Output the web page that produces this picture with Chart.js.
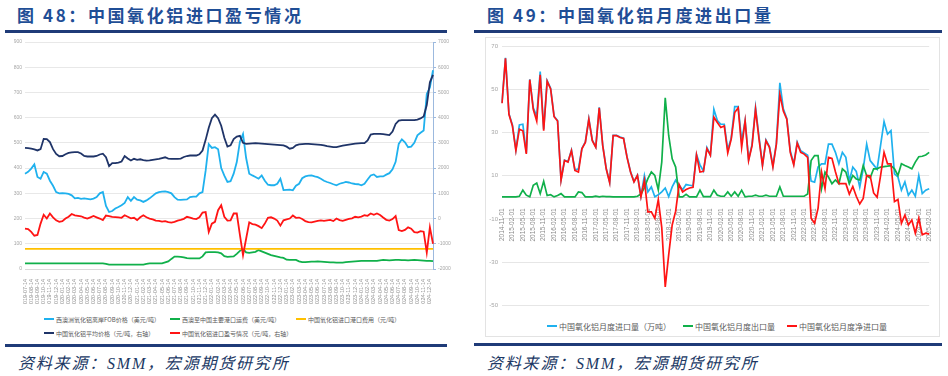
<!DOCTYPE html>
<html>
<head>
<meta charset="utf-8">
<script src="https://cdn.jsdelivr.net/npm/chart.js@4.4.1/dist/chart.umd.min.js"></script>
<style>
body{margin:0;width:948px;height:376px;position:relative;overflow:hidden;background:#fff;font-family:"Noto Sans CJK SC",sans-serif}
.title{position:absolute;top:2px;font-size:17px;font-weight:700;color:#1f4e96;letter-spacing:2.6px;white-space:nowrap}
.rule{position:absolute;height:3px;background:#1f3b78}
.src{position:absolute;top:350px;font-size:16px;font-style:italic;color:#203864;letter-spacing:1.8px;white-space:nowrap;font-family:"Liberation Serif","Noto Sans CJK SC",serif}
canvas{position:absolute}
.box{position:absolute;left:485px;top:37px;width:455px;height:300px;border:1px solid #e3e3e3;box-sizing:border-box}
.leg{position:absolute;color:#595959;white-space:nowrap}
.leg .it{display:flex;align-items:center}
.leg .ln{display:inline-block;width:10px;height:2px;margin-right:2px}
#leg1{left:44px;top:312px;display:grid;grid-template-columns:126px 126px 126px;grid-auto-rows:14px;font-size:6px}
#leg2{left:547px;top:320px;display:flex;gap:12px;height:12px;font-size:8px}
</style>
</head>
<body>
<div class="title" style="left:17px">图 48：中国氧化铝进口盈亏情况</div>
<div class="rule" style="left:5px;top:30px;width:442px"></div>
<div class="title" style="left:487px">图 49：中国氧化铝月度进出口量</div>
<div class="rule" style="left:474px;top:30px;width:468px"></div>

<canvas id="c1" width="452" height="268" style="left:0;top:36px"></canvas>
<div class="leg" id="leg1"></div>

<div class="box"></div>
<canvas id="c2" width="454" height="275" style="left:486px;top:38px"></canvas>
<div class="leg" id="leg2"></div>

<div class="rule" style="left:5px;top:344px;width:442px"></div>
<div class="rule" style="left:474px;top:343px;width:468px"></div>
<div class="src" style="left:18px">资料来源：SMM，宏源期货研究所</div>
<div class="src" style="left:487px">资料来源：SMM，宏源期货研究所</div>

<script>
// ---- 图48 数据 (半月一个点)
var leftDates = [];
for (var m = 0; m < 66; m++) {
    var d = new Date(2019, 6 + m, 1);
    var ym = d.getFullYear() + '-' + String(d.getMonth() + 1).padStart(2, '0');
    leftDates.push(ym + '-14', ym + '-28');
}

// 西澳洲氧化铝离岸FOB价格 (美元/吨, 左轴)
var fobPrice = [
    378, 385, 398, 415, 365, 358, 385, 378, 350, 330,
    305, 300, 301, 300, 298, 292, 280, 282, 278, 280,
    278, 276, 279, 285, 300, 305, 250, 226, 230, 240,
    246, 253, 262, 285, 270, 285, 275, 272, 266, 272,
    280, 290, 300, 305, 307, 308, 305, 300, 285, 275,
    274, 275, 276, 285, 287, 287, 300, 305, 390, 495,
    480, 483, 475, 400, 370, 345, 348, 378, 424, 505,
    535, 440, 378, 371, 365, 358, 371, 350, 334, 332,
    332, 338, 358, 313, 314, 315, 312, 330, 338, 360,
    367, 370, 371, 367, 364, 358, 350, 345, 341, 336,
    332, 338, 341, 345, 343, 339, 337, 336, 332, 338,
    355, 371, 375, 365, 367, 367, 374, 380, 395, 425,
    496, 514, 502, 483, 485, 500, 530, 540, 549, 694,
    720, 788
];
// 西澳至中国主要港口运费 (美元/吨, 左轴)
var freight = [
    22, 22, 22, 22, 22, 22, 22, 22, 22, 22,
    22, 22, 22, 22, 22, 22, 22, 22, 22, 22,
    22, 22, 22, 22, 22, 22, 20, 17, 17, 17,
    17, 17, 17, 17, 17, 17, 17, 17, 17, 20,
    22, 22, 22, 22, 22, 26, 30, 40, 49, 49,
    48, 46, 43, 42, 42, 42, 42, 50, 66, 67,
    67, 67, 66, 62, 51, 48, 49, 50, 60, 72,
    80, 66, 64, 66, 68, 75, 70, 65, 60, 55,
    52, 49, 46, 44, 37, 36, 36, 36, 30, 27,
    27, 28, 29, 29, 30, 29, 28, 27, 26, 26,
    25, 25, 25, 27, 28, 29, 30, 31, 32, 32,
    32, 32, 32, 32, 34, 36, 35, 34, 35, 36,
    36, 35, 35, 34, 35, 36, 35, 34, 33, 32,
    32, 31
];
// 中国氧化铝进口港口费用 (首尾两点, 左轴)
var portFee = [80, 80];
// 中国氧化铝平均价格 (元/吨, 右轴)
var cnPrice = [
    2800, 2790, 2770, 2740, 2700, 2750, 3160, 3150, 3030, 2750,
    2560, 2470, 2480, 2550, 2600, 2620, 2630, 2630, 2580, 2480,
    2460, 2460, 2460, 2480, 2540, 2570, 2430, 2080, 2200, 2200,
    2220, 2260, 2480, 2380, 2300, 2370, 2330, 2350, 2320, 2300,
    2310, 2330, 2350, 2370, 2400, 2430, 2380, 2370, 2370, 2370,
    2380, 2440, 2480, 2500, 2500, 2500, 2550, 2700, 3120, 3600,
    3980, 4120, 3980, 3680, 3200, 2850, 2900, 3150, 3250, 3280,
    3000, 2960, 2970, 2980, 2990, 2980, 2970, 2960, 2950, 2940,
    2930, 2920, 2910, 2900, 2850, 2770, 2800, 2900, 2940, 2950,
    2960, 2960, 2950, 2940, 2930, 2920, 2900, 2870, 2850, 2830,
    2830, 2860, 2890, 2910, 2930, 2950, 2970, 2980, 2990, 2990,
    3100, 3330, 3360, 3360, 3360, 3350, 3330, 3310, 3450, 3750,
    3880, 3900, 3900, 3900, 3900, 3900, 3920, 3970, 4050, 4500,
    5400, 5700
];
// 中国氧化铝进口盈亏情况 (元/吨, 右轴)
var profit = [
    -400, -420, -530, -680, -650, -200, 150, 0, 200, 50,
    -70, -130, -100, 0, 70, 180, 130, 110, 90, 40,
    0, 50, 100, 50, 0, -60, 120, 100, 70, 60,
    50, 30, 130, 70, 10, 30, -60, 50, 130, 50,
    0, -30, -80, -90, -120, -100, -140, -160, -130, -80,
    -50, -10, 70, 40, 0, -20, 50, 240, 260, -530,
    -200, -130, 330, 530, 70, -80, -70, 200, 200, -650,
    -1450, -800, -150, -220, -240, -300, -380, -200, 30, 50,
    0, -80, -280, -70, -30, 0, 120, 30, 40, -20,
    -100, -140, -150, -120, -90, -70, -90, -70, -50, -100,
    0, -60, -90, -50, -10, 10, 70, 50, 80, 130,
    110, 200, 150, 200, 140, 40, -50, -80, -20, 100,
    -460, -500, -450, -350, -400, -540, -560, -500, -520, -1350,
    -350, -1000
];

// ---- 图49 数据 (月度, 万吨)
var months = [];
for (var k = 0; k < 124; k++) {
    var dm = new Date(2014, 10 + k, 1);
    months.push(dm.getFullYear() + '-' + String(dm.getMonth() + 1).padStart(2, '0') + '-01');
}
var importVol = [
    43.7, 64.5, 38.6, 33.5, 22, 33.5, 33.8, 20.5, 54.6, 41.4,
    37.6, 58.2, 31.5, 54, 50.5, 37.5, 35.5, 8.2, 17.2, 16.5,
    21.8, 12.6, 13.2, 22.6, 25.6, 36.3, 26.4, 23.3, 41.6, 24.1,
    13.4, 7, 28.7, 28.7, 27.9, 27.4, 18.7, 11.9, 7.3, 10.3,
    0.5, 10.1, 2.5, 4.8, 0.3, 1.2, 2.5, 4.3, 0.3, 4.8,
    7.9, 5.6, 3.5, 5.9, 5.6, 5.3, 19.8, 15, 12.2, 23,
    19.6, 40.7, 35.5, 33.8, 33.8, 22, 27.5, 42, 42, 26,
    35.5, 17.5, 24.5, 41.5, 28, 15, 26.5, 23.5, 14.5, 25,
    53, 41, 36.5, 21.5, 15.5, 25.5, 21.5, 20.5, 19.5, 7.5,
    7, 14, 15.5, 15.5, 24.6, 24.6, 20.8, 15.5, 20.8, 18.5,
    7.5, 14, 12, 4.8, 13.2, 24.6, 17, 15, 13, 24,
    35, 29.2, 30.8, 10.9, 9.4, 3.3, 7.1, 1, 3.3, 0.5,
    10.1, 1.7, 3.3, 4
];
var exportVol = [
    0.2, 0.2, 0.2, 0.2, 0.2, 0.5, 3.3, 1, 0.2, 5.6,
    6.6, 1.7, 7.4, 0.8, 1.2, 0.2, 0.8, 1.7, 0.2, 0.2,
    0.2, 0.2, 2.5, 2.2, 0.2, 0.2, 0.2, 0.5, 0.2, 0.5,
    0.3, 0.3, 0.2, 0.2, 0.2, 0.2, 0.2, 0.2, 0.2, 0.5,
    1.5, 4.5, 8.6, 11.7, 10.1, 3.5, 16.3, 46, 28.5, 17.8,
    14, 0.2, 0.2, 1.4, 0.2, 0.2, 0.2, 3.3, 0.3, 0.3,
    0.3, 3.3, 1, 0.5, 0.5, 2.5, 0.5, 2.5, 0.5, 3.3,
    0.2, 0.5, 0.5, 1, 0.5, 0.5, 1, 0.5, 0.5, 0.5,
    4.8, 0.5, 0.5, 0.5, 0.5, 0.5, 0.5, 0.5, 1.5, 17,
    19.3, 19.3, 4, 11.7, 9.4, 6.3, 8, 6.3, 13.2, 11.7,
    6.3, 10.1, 8.5, 8, 14.7, 10, 9, 13.2, 13.2, 14,
    14.2, 14.4, 14.7, 13.2, 10.1, 15.5, 14.7, 14, 13.2, 16.3,
    18.8, 19, 19.6, 20.8
];
var netImport = [
    43.5, 64.3, 38.4, 33, 21.6, 31.5, 30.8, 20.1, 54.4, 40.7,
    35.3, 56.7, 30.8, 53.7, 50.1, 37.3, 35.3, 7.9, 17, 16.3,
    21.6, 12.4, 11.7, 22.4, 25.4, 36.1, 26.2, 23.1, 41.4, 23.9,
    13.2, 6.8, 28.5, 28.5, 27.7, 27.2, 18.5, 11.7, 7.1, 10.1,
    0.2, 7.9, -6.7, -6.7, -9.7, -1, -14, -41.5, -26.5, -12.8,
    -6.4, 5.9, 2.5, 3.6, 4.3, 4.6, 19.6, 11.7, 12, 22.5,
    19.4, 37, 34.6, 32.3, 33, 20.5, 26.9, 39.2, 41.4, 23.1,
    35.3, 17, 23.9, 40.7, 26.9, 14.7, 26.2, 23.1, 14, 24.6,
    47.6, 39.9, 36.1, 20.8, 15, 25.1, 20.8, 20, 18.5, -9.7,
    -12, -5.1, 11.7, 4, 18.5, 18, 11.8, 6.3, 6.3, 6.3,
    1.5, 5, 0.5, -3.1, -0.5, 10.1, 10, 2, 0, 10,
    20.8, 15.5, 15.5, -2, -1, -12, -8.2, -12.8, -10.5, -16.6,
    -9.7, -17.3, -16.6, -17
];

Chart.defaults.font.family = '"Liberation Sans", "Noto Sans CJK SC", sans-serif';
Chart.defaults.animation = false;

function buildLegend(chart, el) {
    chart.data.datasets.forEach(function(ds) {
        var it = document.createElement('div');
        it.className = 'it';
        it.innerHTML = '<span class="ln" style="background:' + ds.borderColor + '"></span>' + ds.label;
        el.appendChild(it);
    });
}

function plainNum(v) { return String(v); }

var chart1 = new Chart(document.getElementById('c1'), {
    type: 'line',
    data: {
        labels: leftDates,
        datasets: [
            {label: '西澳洲氧化铝离岸FOB价格（美元/吨）', data: fobPrice, borderColor: '#1fb1ee', yAxisID: 'y', order: 4},
            {label: '西澳至中国主要港口运费（美元/吨）', data: freight, borderColor: '#10b04a', yAxisID: 'y', order: 3},
            {label: '中国氧化铝进口港口费用（元/吨）', data: [{x: leftDates[0], y: portFee[0]}, {x: leftDates[leftDates.length - 1], y: portFee[1]}], borderColor: '#ffc000', yAxisID: 'y', order: 2},
            {label: '中国氧化铝平均价格（元/吨，右轴）', data: cnPrice, borderColor: '#1f3468', yAxisID: 'y1', order: 1},
            {label: '中国氧化铝进口盈亏情况（元/吨，右轴）', data: profit, borderColor: '#ff1414', yAxisID: 'y1', order: 0}
        ]
    },
    options: {
        responsive: false,
        layout: {padding: {top: 5}},
        elements: {point: {radius: 0}, line: {borderWidth: 1.8, tension: 0}},
        plugins: {legend: {display: false}, tooltip: {enabled: false}},
        scales: {
            x: {
                grid: {display: false},
                border: {color: '#d9d9d9'},
                ticks: {
                    autoSkip: false, maxRotation: 90, minRotation: 90, padding: 2,
                    font: {size: 5.5}, color: '#8c8c8c',
                    callback: function(v, i) { return i % 2 === 0 ? this.getLabelForValue(v) : null; }
                },
                afterFit: function(s) { s.height = 35; }
            },
            y: {
                min: 0, max: 900,
                ticks: {stepSize: 100, font: {size: 5}, color: '#a6a6a6', padding: 3, callback: plainNum},
                grid: {color: '#e8e8e8', drawTicks: false},
                border: {display: false},
                afterFit: function(s) { s.width = 25; }
            },
            y1: {
                position: 'right', min: -2000, max: 7000,
                ticks: {stepSize: 1000, font: {size: 5}, color: '#a6a6a6', padding: 2, callback: plainNum},
                grid: {drawOnChartArea: false, tickLength: 3, color: '#9cb9de'},
                border: {color: '#9cb9de'},
                afterFit: function(s) { s.width = 19; }
            }
        }
    }
});
buildLegend(chart1, document.getElementById('leg1'));

var chart2 = new Chart(document.getElementById('c2'), {
    type: 'line',
    data: {
        labels: months,
        datasets: [
            {label: '中国氧化铝月度进口量（万吨）', data: importVol, borderColor: '#1fb1ee', order: 2},
            {label: '中国氧化铝月度出口量', data: exportVol, borderColor: '#10b04a', order: 1},
            {label: '中国氧化铝月度净进口量', data: netImport, borderColor: '#ff1414', order: 0}
        ]
    },
    options: {
        responsive: false,
        layout: {padding: {top: 8, right: 4, bottom: 5}},
        elements: {point: {radius: 0}, line: {borderWidth: 1.7, tension: 0}},
        plugins: {legend: {display: false}, tooltip: {enabled: false}},
        scales: {
            x: {
                position: {y: 0},
                grid: {display: false},
                border: {color: '#d9d9d9'},
                ticks: {
                    autoSkip: false, maxRotation: 90, minRotation: 90, padding: 3,
                    font: {size: 6.5}, color: '#8c8c8c',
                    callback: function(v, i) { return i % 3 === 0 ? this.getLabelForValue(v) : null; }
                }
            },
            y: {
                min: -50, max: 70,
                ticks: {stepSize: 20, font: {size: 6}, color: '#a6a6a6', padding: 4, callback: plainNum},
                grid: {color: '#e6e6e6', drawTicks: false},
                border: {display: false},
                afterFit: function(s) { s.width = 16; }
            }
        }
    }
});
buildLegend(chart2, document.getElementById('leg2'));
</script>
</body>
</html>
